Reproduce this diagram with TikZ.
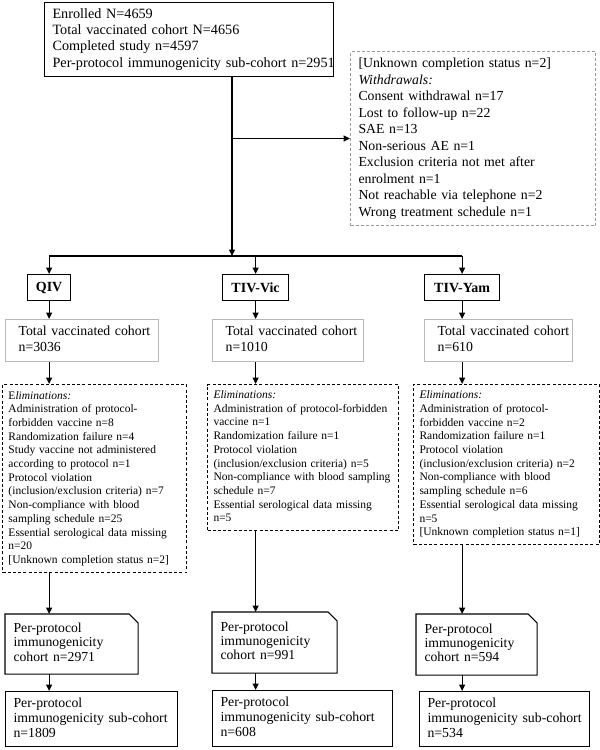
\documentclass[tikz,border=0pt]{standalone}
\usepackage{fontspec}
\setmainfont{Liberation Serif}
\usetikzlibrary{arrows.meta}
\newcommand\fsz[2]{\fontsize{#1}{#2}\selectfont}
\newcommand\tl[1]{\begin{tabular}{@{}l@{}}#1\end{tabular}}
\definecolor{gbox}{HTML}{B8B8B8}
\definecolor{gdash}{HTML}{9A9A9A}
\begin{document}
\begin{tikzpicture}[x=1pt,y=-1pt,
  base/.style={anchor=north west, inner ysep=0pt, align=left, line width=1.1pt},
  blk/.style={base, draw=black},
  greybox/.style={base, draw=gbox, line width=1.2pt},
  wdbox/.style={base, draw=gdash, line width=1pt, dash pattern=on 3pt off 2pt},
  elimbox/.style={base, draw=black, line width=1pt, dash pattern=on 3pt off 2.2pt, font=\fsz{11.5}{13.7}},
  armbox/.style={anchor=north west, draw=black, line width=1.2pt, inner sep=0pt, align=center, font=\fsz{14}{16}\bfseries},
  ppbox/.style={base, font=\fsz{13.7}{14.2}},
  subbox/.style={blk, font=\fsz{13.8}{15}},
  arr/.style={line width=1.1pt, -{Triangle[length=6.5pt,width=6pt]}},
  ln/.style={line width=1.1pt}
]
\useasboundingbox (0,0) rectangle (600,750);

% top box
\node[blk, minimum width=289pt, minimum height=74pt, text width=273pt, inner xsep=8pt, font=\fsz{14.2}{16.3}] (top) at (44,2)
  {\tl{Enrolled N=4659\\ Total vaccinated cohort N=4656\\ Completed study n=4597\\ Per-protocol immunogenicity sub-cohort n=2951}};

% withdrawals
\node[wdbox, minimum width=245pt, minimum height=174pt, text width=229pt, inner xsep=8pt, font=\fsz{13.8}{16.5}] (wd) at (350,51)
  {\tl{{[Unknown completion status n=2]}\\ \textit{Withdrawals:}\\ Consent withdrawal n=17\\ Lost to follow-up n=22\\ SAE n=13\\ Non-serious AE n=1\\ Exclusion criteria not met after\\ enrolment n=1\\ Not reachable via telephone n=2\\ Wrong treatment schedule n=1}};

% arm labels
\node[armbox, minimum width=43pt, minimum height=26pt] (qiv) at (27,274) {QIV};
\node[armbox, minimum width=66pt, minimum height=26pt] (vic) at (222,274) {TIV-Vic};
\node[armbox, minimum width=75pt, minimum height=26pt] (yam) at (424,274) {TIV-Yam};

% total vaccinated cohort boxes
\node[greybox, minimum width=153pt, minimum height=42pt, text width=127pt, inner xsep=13pt, font=\fsz{13.8}{16}] (tvcA) at (5,319)
  {\tl{Total vaccinated cohort\\ n=3036}};
\node[greybox, minimum width=151pt, minimum height=42pt, text width=125pt, inner xsep=13pt, font=\fsz{13.8}{16}] (tvcB) at (212,319)
  {\tl{Total vaccinated cohort\\ n=1010}};
\node[greybox, minimum width=148pt, minimum height=42pt, text width=122pt, inner xsep=13pt, font=\fsz{13.8}{16}] (tvcC) at (424,319)
  {\tl{Total vaccinated cohort\\ n=610}};

% eliminations
\node[elimbox, minimum width=184pt, minimum height=188pt, text width=172pt, inner xsep=6pt] (elimA) at (2,384)
  {\tl{E\textit{liminations:}\\ Administration of protocol-\\ forbidden vaccine n=8\\ Randomization failure n=4\\ Study vaccine not administered\\ according to protocol n=1\\ Protocol violation\\ (inclusion/exclusion criteria) n=7\\ Non-compliance with blood\\ sampling schedule n=25\\ Essential serological data missing\\ n=20\\ {[Unknown completion status n=2]}}};
\node[elimbox, minimum width=191pt, minimum height=146pt, text width=179pt, inner xsep=6pt] (elimB) at (207,384)
  {\tl{\textit{Eliminations:}\\ Administration of protocol-forbidden\\ vaccine n=1\\ Randomization failure n=1\\ Protocol violation\\ (inclusion/exclusion criteria) n=5\\ Non-compliance with blood sampling\\ schedule n=7\\ Essential serological data missing\\ n=5}};
\node[elimbox, minimum width=186pt, minimum height=160pt, text width=174pt, inner xsep=6pt] (elimC) at (413,384)
  {\tl{\textit{Eliminations:}\\ Administration of protocol-\\ forbidden vaccine n=2\\ Randomization failure n=1\\ Protocol violation\\ (inclusion/exclusion criteria) n=2\\ Non-compliance with blood\\ sampling schedule n=6\\ Essential serological data missing\\ n=5\\ {[Unknown completion status n=1]}}};

% per-protocol cohort boxes (cut corner)
\node[ppbox, minimum width=132pt, minimum height=59pt, text width=116pt, inner xsep=8pt] (ppA) at (5,614)
  {\tl{Per-protocol\\ immunogenicity\\ cohort n=2971}};
\node[ppbox, minimum width=124pt, minimum height=60pt, text width=108pt, inner xsep=8pt] (ppB) at (212,612)
  {\tl{Per-protocol\\ immunogenicity\\ cohort n=991}};
\node[ppbox, minimum width=120pt, minimum height=60pt, text width=104pt, inner xsep=8pt] (ppC) at (416,614)
  {\tl{Per-protocol\\ immunogenicity\\ cohort n=594}};
\foreach \p in {ppA,ppB,ppC}{
  \draw[ln] (\p.south west) -- (\p.north west) -- ([xshift=-9pt]\p.north east)
    -- ([yshift=-9pt]\p.north east) -- (\p.south east) -- cycle;
}

% sub-cohort boxes
\node[subbox, minimum width=172pt, minimum height=55pt, text width=156pt, inner xsep=8pt] (subA) at (5,691)
  {\tl{Per-protocol\\ immunogenicity sub-cohort\\ n=1809}};
\node[subbox, minimum width=180pt, minimum height=56pt, text width=164pt, inner xsep=8pt] (subB) at (212,690)
  {\tl{Per-protocol\\ immunogenicity sub-cohort\\ n=608}};
\node[subbox, minimum width=170pt, minimum height=55pt, text width=154pt, inner xsep=8pt] (subC) at (419,691)
  {\tl{Per-protocol\\ immunogenicity sub-cohort\\ n=534}};

% connectors
\coordinate (j) at (232,256);
\draw[arr] (top.south -| j) -- (j);
\draw[arr] (wd.west -| j) -- (wd.west);
\draw[ln] (j -| qiv) -- (j -| yam);
\draw[arr] (j -| qiv) -- (qiv.north);
\draw[arr] (j -| vic) -- (vic.north);
\draw[arr] (j -| yam) -- (yam.north);

\foreach \a/\t/\e/\p/\s in {qiv/tvcA/elimA/ppA/subA, vic/tvcB/elimB/ppB/subB, yam/tvcC/elimC/ppC/subC}{
  \draw[arr] (\a.south) -- (\a.south |- \t.north);
  \draw[arr] (\t.south -| \a) -- (\e.north -| \a);
  \draw[arr] (\e.south -| \a) -- (\p.north -| \a);
  \draw[arr] (\p.south -| \a) -- (\s.north -| \a);
}
\end{tikzpicture}
\end{document}
